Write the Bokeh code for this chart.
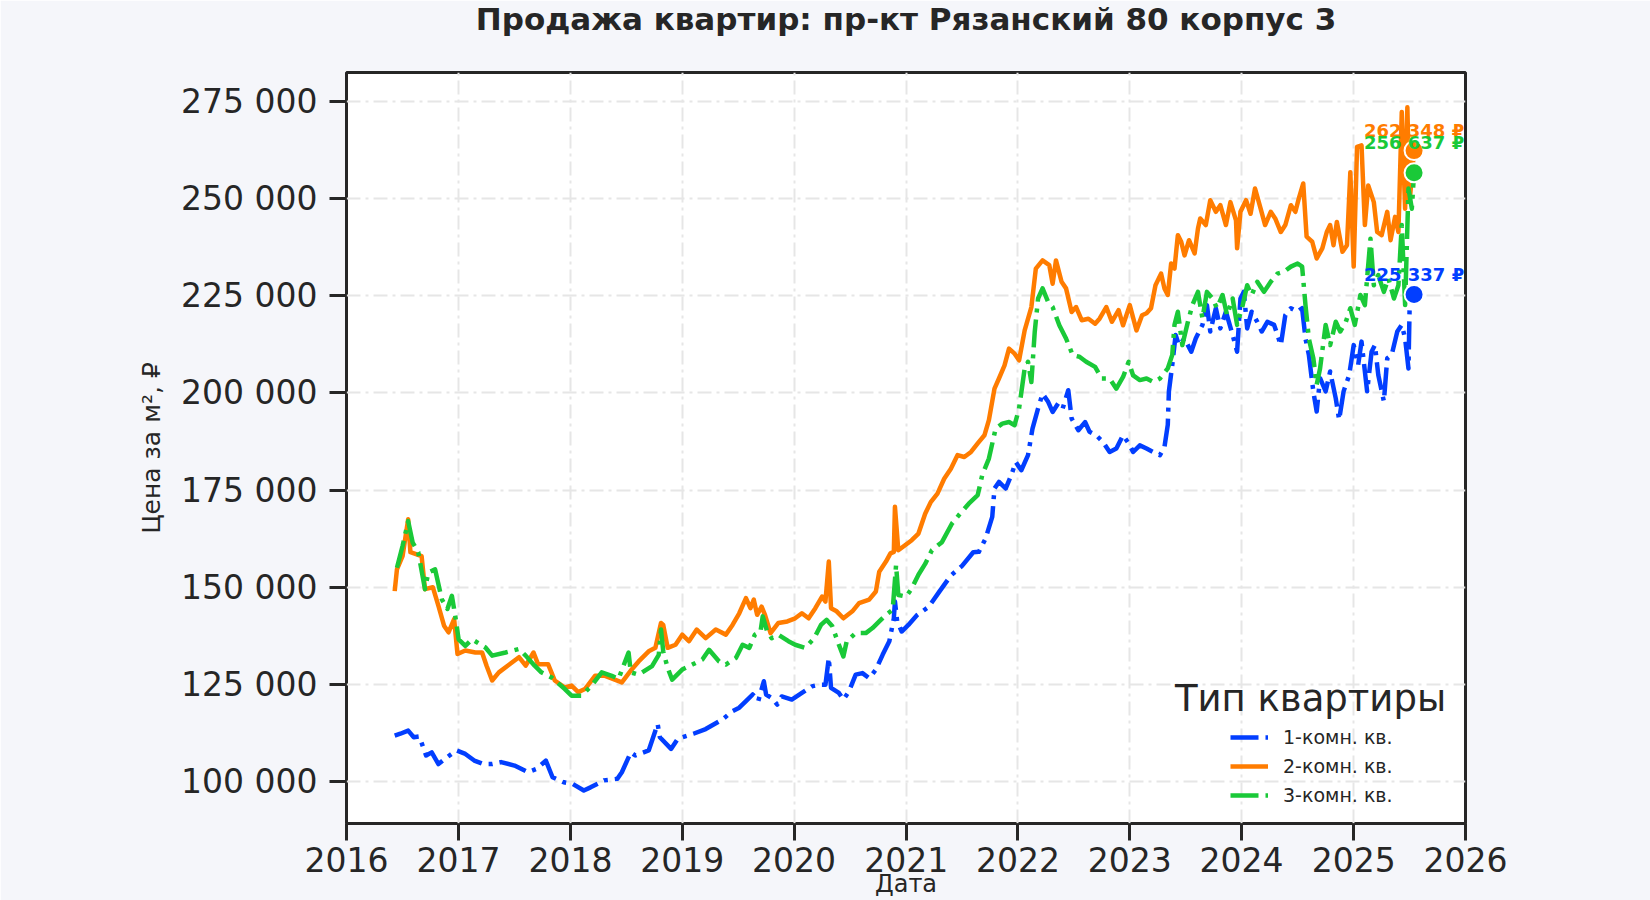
from datetime import datetime

from bokeh.core.properties import value
from bokeh.embed import file_html
from bokeh.models import FixedTicker, Label, Legend, LegendItem, Title
from bokeh.plotting import figure
from bokeh.resources import INLINE

title = 'Продажа квартир: пр-кт Рязанский 80 корпус 3'
series_names = ['1-комн. кв.', '2-комн. кв.', '3-комн. кв.']
series_colors = ['#023eff', '#ff7c00', '#1ac938']
legend_title = 'Тип квартиры'
y_ticks = [100000, 125000, 150000, 175000, 200000, 225000, 250000, 275000]
x_tick_years = [2016, 2017, 2018, 2019, 2020, 2021, 2022, 2023, 2024, 2025, 2026]

# dates are fractional years
one_room_t = [
    2016.43, 2016.48, 2016.55, 2016.60, 2016.65, 2016.71, 2016.76, 2016.82, 2016.90, 2016.98,
    2017.06, 2017.14, 2017.22, 2017.30, 2017.38, 2017.50, 2017.62, 2017.70, 2017.78, 2017.84,
    2017.94, 2018.02, 2018.12, 2018.18, 2018.30, 2018.42, 2018.46, 2018.54, 2018.58, 2018.70,
    2018.78, 2018.80, 2018.90, 2018.96, 2019.10, 2019.21, 2019.36, 2019.45, 2019.51, 2019.57,
    2019.63, 2019.68, 2019.73, 2019.75, 2019.80, 2019.85, 2019.89, 2019.98, 2020.07, 2020.16,
    2020.22, 2020.28, 2020.31, 2020.33, 2020.40, 2020.44, 2020.49, 2020.55, 2020.61, 2020.67,
    2020.73, 2020.79, 2020.85, 2020.89, 2020.90, 2020.92, 2020.96, 2021.02, 2021.10, 2021.20,
    2021.30, 2021.40, 2021.50, 2021.60, 2021.65, 2021.71, 2021.77, 2021.79, 2021.83, 2021.89,
    2021.94, 2021.98, 2022.03, 2022.09, 2022.13, 2022.18, 2022.22, 2022.27, 2022.31, 2022.36,
    2022.40, 2022.45, 2022.48, 2022.54, 2022.60, 2022.64, 2022.70, 2022.76, 2022.82, 2022.88,
    2022.94, 2022.99, 2023.03, 2023.09, 2023.15, 2023.21, 2023.27, 2023.31, 2023.34, 2023.35,
    2023.38, 2023.41, 2023.44, 2023.49, 2023.55, 2023.59, 2023.65, 2023.69, 2023.72, 2023.77,
    2023.81, 2023.86, 2023.92, 2023.96, 2023.99, 2024.02, 2024.05, 2024.09, 2024.14, 2024.18,
    2024.23, 2024.29, 2024.35, 2024.39, 2024.44, 2024.50, 2024.54, 2024.57, 2024.60, 2024.64,
    2024.67, 2024.70, 2024.75, 2024.79, 2024.84, 2024.87, 2024.91, 2024.96, 2025.00, 2025.04,
    2025.07, 2025.12, 2025.16, 2025.19, 2025.22, 2025.27, 2025.30, 2025.34, 2025.39, 2025.43,
    2025.46, 2025.49, 2025.50, 2025.54,
]
one_room_v = [
    111800, 112300, 113100, 111400, 111600, 106700, 107500, 104500, 106300, 108000,
    107100, 105400, 104500, 104500, 105000, 104100, 102400, 103300, 105400, 101100,
    99800, 99400, 97700, 98500, 100300, 100700, 102400, 107500, 106700, 108000,
    114800, 111400, 108400, 111000, 112300, 113500, 116000, 118100, 119000, 120700,
    122400, 120700, 125800, 122400, 121500, 119800, 121900, 121100, 122800, 124500,
    124900, 124900, 131800, 124100, 122800, 121100, 123200, 127500, 127900, 126600,
    128800, 132600, 136100, 142000, 146300, 141200, 138600, 140300, 142900, 144900,
    149000, 153000, 155500, 159000, 159100, 162500, 168100, 175400, 177100, 175400,
    178800, 182200, 180100, 184000, 190800, 196000, 199800, 197700, 195100, 197300,
    196000, 200700, 193400, 190400, 192500, 190000, 189100, 187400, 184800, 185700,
    189100, 187000, 184800, 186500, 185700, 184800, 184000, 186000, 191800, 200400,
    207200, 214900, 212300, 214000, 210600, 214000, 217500, 222600, 215800, 221800,
    216600, 220900, 214900, 210600, 224300, 226000, 216600, 220900, 218300, 215800,
    218300, 217500, 212300, 220000, 221800, 220900, 221800, 214000, 209800, 200400,
    195200, 203800, 200400, 205500, 198600, 193100, 200400, 204600, 212300, 207200,
    213200, 200400, 210600, 212300, 204600, 197800, 208900, 209800, 215800, 217500,
    214000, 206300, 221800, 225337,
]

two_room_t = [
    2016.43, 2016.45, 2016.50, 2016.55, 2016.57, 2016.62, 2016.67, 2016.70, 2016.77, 2016.82,
    2016.87, 2016.91, 2016.96, 2016.99, 2017.06, 2017.15, 2017.21, 2017.25, 2017.30, 2017.36,
    2017.48, 2017.54, 2017.60, 2017.67, 2017.71, 2017.80, 2017.86, 2017.95, 2018.01, 2018.07,
    2018.13, 2018.22, 2018.31, 2018.46, 2018.55, 2018.61, 2018.70, 2018.76, 2018.81, 2018.83,
    2018.87, 2018.94, 2019.00, 2019.06, 2019.13, 2019.21, 2019.30, 2019.39, 2019.45, 2019.51,
    2019.57, 2019.61, 2019.64, 2019.67, 2019.71, 2019.74, 2019.79, 2019.86, 2019.94, 2020.01,
    2020.07, 2020.13, 2020.19, 2020.25, 2020.28, 2020.31, 2020.33, 2020.38, 2020.44, 2020.52,
    2020.58, 2020.67, 2020.73, 2020.76, 2020.82, 2020.86, 2020.89, 2020.90, 2020.93, 2020.99,
    2021.05, 2021.11, 2021.17, 2021.22, 2021.28, 2021.34, 2021.40, 2021.46, 2021.52, 2021.58,
    2021.64, 2021.70, 2021.74, 2021.79, 2021.83, 2021.88, 2021.92, 2021.97, 2022.01, 2022.06,
    2022.12, 2022.16, 2022.22, 2022.28, 2022.31, 2022.34, 2022.39, 2022.43, 2022.48, 2022.52,
    2022.57, 2022.63, 2022.69, 2022.73, 2022.79, 2022.84, 2022.90, 2022.94, 2023.00, 2023.06,
    2023.11, 2023.15, 2023.19, 2023.23, 2023.28, 2023.31, 2023.34, 2023.37, 2023.40, 2023.43,
    2023.46, 2023.49, 2023.53, 2023.58, 2023.61, 2023.63, 2023.68, 2023.72, 2023.77, 2023.81,
    2023.86, 2023.90, 2023.95, 2023.96, 2023.99, 2024.04, 2024.08, 2024.12, 2024.17, 2024.21,
    2024.26, 2024.30, 2024.35, 2024.39, 2024.44, 2024.48, 2024.51, 2024.55, 2024.58, 2024.63,
    2024.67, 2024.72, 2024.76, 2024.79, 2024.82, 2024.85, 2024.90, 2024.94, 2024.97, 2025.00,
    2025.03, 2025.07, 2025.10, 2025.13, 2025.18, 2025.21, 2025.25, 2025.30, 2025.33, 2025.37,
    2025.40, 2025.43, 2025.46, 2025.48, 2025.50, 2025.54,
]
two_room_v = [
    149000, 154600, 158000, 167500, 159000, 158500, 158000, 149500, 150000, 145200,
    140100, 138400, 141800, 132800, 133700, 133200, 133200, 129800, 126000, 128100,
    130700, 132000, 129800, 133200, 130200, 130200, 126000, 124200, 124700, 123000,
    123800, 127200, 127200, 125500, 128900, 130900, 133500, 134400, 140800, 140300,
    134400, 135200, 137800, 136100, 139100, 136900, 139100, 137800, 140300, 143300,
    147200, 144600, 146800, 142900, 145000, 142900, 138200, 140800, 141200, 142000,
    143300, 142000, 144600, 147600, 146300, 156600, 144600, 143800, 142000, 143800,
    145900, 146800, 148900, 154000, 156600, 158700, 159100, 170700, 159500, 160800,
    162100, 163800, 168900, 171900, 174100, 177900, 180500, 184000, 183500, 184800,
    187000, 189100, 193000, 201100, 203700, 207100, 211400, 210100, 208400, 216100,
    222100, 232000, 234100, 232900, 228100, 234100, 228600, 226900, 220800, 222100,
    218700, 219100, 217800, 219100, 222100, 218300, 221300, 217400, 222600, 216100,
    220000, 220500, 221800, 227700, 230700, 226900, 225200, 233300, 232000, 240600,
    238900, 235400, 239300, 235900, 242300, 244900, 243200, 249600, 246600, 248300,
    243200, 249100, 244400, 237200, 246600, 249600, 246100, 252600, 247400, 243200,
    246600, 244900, 241400, 243200, 248300, 246600, 250000, 253900, 240200, 238900,
    234600, 237200, 241400, 243200, 238000, 244000, 236300, 238000, 256800, 232500,
    263300, 263700, 243200, 253400, 249100, 241400, 240600, 246600, 239300, 245300,
    241400, 272300, 247400, 273500, 249100, 262348,
]

three_room_t = [
    2016.45, 2016.50, 2016.55, 2016.59, 2016.64, 2016.70, 2016.73, 2016.79, 2016.85, 2016.90,
    2016.94, 2016.97, 2017.00, 2017.06, 2017.12, 2017.24, 2017.30, 2017.42, 2017.54, 2017.60,
    2017.68, 2017.74, 2017.83, 2017.95, 2018.01, 2018.10, 2018.19, 2018.28, 2018.37, 2018.43,
    2018.52, 2018.54, 2018.61, 2018.73, 2018.79, 2018.81, 2018.83, 2018.87, 2018.91, 2019.00,
    2019.09, 2019.18, 2019.24, 2019.33, 2019.39, 2019.48, 2019.54, 2019.60, 2019.65, 2019.70,
    2019.72, 2019.76, 2019.80, 2019.86, 2019.95, 2020.01, 2020.10, 2020.18, 2020.24, 2020.29,
    2020.34, 2020.40, 2020.44, 2020.47, 2020.55, 2020.64, 2020.70, 2020.76, 2020.82, 2020.88,
    2020.91, 2020.93, 2021.00, 2021.05, 2021.11, 2021.17, 2021.23, 2021.32, 2021.41, 2021.47,
    2021.56, 2021.64, 2021.68, 2021.74, 2021.80, 2021.86, 2021.92, 2021.97, 2022.01, 2022.06,
    2022.09, 2022.12, 2022.15, 2022.18, 2022.22, 2022.27, 2022.31, 2022.37, 2022.43, 2022.49,
    2022.55, 2022.61, 2022.69, 2022.75, 2022.82, 2022.88, 2022.94, 2022.99, 2023.03, 2023.09,
    2023.15, 2023.21, 2023.27, 2023.34, 2023.38, 2023.40, 2023.43, 2023.47, 2023.52, 2023.56,
    2023.61, 2023.65, 2023.69, 2023.74, 2023.78, 2023.83, 2023.87, 2023.92, 2023.96, 2024.01,
    2024.05, 2024.09, 2024.14, 2024.20, 2024.26, 2024.32, 2024.38, 2024.44, 2024.50, 2024.54,
    2024.57, 2024.60, 2024.64, 2024.67, 2024.70, 2024.75, 2024.79, 2024.84, 2024.88, 2024.93,
    2024.97, 2025.01, 2025.06, 2025.10, 2025.15, 2025.18, 2025.22, 2025.27, 2025.31, 2025.36,
    2025.40, 2025.43, 2025.46, 2025.49, 2025.52, 2025.54,
]
three_room_v = [
    155000, 160600, 167000, 161500, 159000, 149500, 153800, 154600, 146900, 144400,
    147800, 142600, 136600, 134900, 136600, 134500, 132400, 133200, 134100, 132400,
    129800, 128100, 126800, 123800, 122100, 122100, 124700, 128100, 127200, 126400,
    133200, 128100, 127500, 129700, 132600, 139100, 133500, 129200, 126200, 128800,
    130100, 131400, 133900, 130900, 130100, 131800, 135200, 134400, 137800, 138600,
    142500, 138600, 136900, 137800, 136100, 135200, 134400, 136900, 140300, 141600,
    140000, 135200, 132200, 136100, 138200, 138200, 139500, 141200, 142900, 144200,
    155700, 148000, 147600, 149700, 153200, 156000, 159500, 161600, 166400, 168500,
    171500, 173700, 178800, 183100, 190800, 192100, 192500, 191700, 196000, 206300,
    208000, 202800, 215700, 224300, 226900, 223400, 222100, 217400, 214000, 209700,
    209300, 208000, 206700, 203700, 203700, 201100, 204100, 208000, 204500, 203300,
    203700, 202800, 203700, 206300, 209800, 217500, 220900, 212300, 218300, 222600,
    226000, 219200, 226000, 224300, 221800, 225200, 220000, 224300, 217500, 222600,
    227700, 225200, 228600, 226000, 228600, 230700, 231200, 232500, 233300, 232500,
    222600, 214000, 208900, 202100, 206300, 217500, 212300, 218300, 215800, 218300,
    221800, 217500, 225200, 222600, 239700, 227700, 230300, 226000, 229500, 224300,
    227700, 243200, 222600, 252600, 247400, 256637,
]


def to_date(year):
    start = datetime(int(year), 1, 1)
    end = datetime(int(year) + 1, 1, 1)
    return start + (end - start) * (year - int(year))


def to_ms(d):
    return int((d - datetime(1970, 1, 1)).total_seconds() * 1000)


def money(v):
    return f'{v:,}'.replace(',', ' ')


series = [
    ([to_date(t) for t in one_room_t], one_room_v),
    ([to_date(t) for t in two_room_t], two_room_v),
    ([to_date(t) for t in three_room_t], three_room_v),
]

p = figure(
    width=1650,
    height=900,
    x_axis_type='datetime',
    x_range=(datetime(2016, 1, 1), datetime(2026, 1, 1)),
    y_range=(89200, 282450),
    toolbar_location=None,
    output_backend='svg',
    min_border_left=346,
    min_border_right=185,
    min_border_top=71,
    min_border_bottom=0,
)

# empty spacer next to the frame so the real title sits near the top edge
p.add_layout(Title(text=' ', text_font_size='1px', standoff=31), 'above')
p.add_layout(Title(
    text=title, align='center', vertical_align='top', standoff=0,
    text_font='DejaVu Sans', text_font_size='31px', text_color='#262626',
), 'above')

p.border_fill_color = '#f5f6fa'
p.background_fill_color = 'white'
p.outline_line_color = '#262626'
p.outline_line_width = 3

p.grid.grid_line_color = '#e6e6e6'
p.grid.grid_line_width = 2
p.grid.grid_line_dash = '14 5 3 5'

p.axis.axis_line_color = None
p.axis.major_tick_line_color = '#262626'
p.axis.major_tick_line_width = 3
p.axis.major_tick_out = 17
p.axis.major_tick_in = 0
p.axis.minor_tick_line_color = None
p.axis.major_label_text_font = 'DejaVu Sans'
p.axis.major_label_text_font_size = '33px'
p.axis.major_label_text_color = '#262626'
p.axis.axis_label_text_font = 'DejaVu Sans'
p.axis.axis_label_text_font_style = 'normal'
p.axis.axis_label_text_color = '#262626'

p.xaxis.ticker = FixedTicker(ticks=[to_ms(datetime(y, 1, 1)) for y in x_tick_years])
p.xaxis.major_label_overrides = {to_ms(datetime(y, 1, 1)): str(y) for y in x_tick_years}
p.xaxis.major_label_standoff = 6
p.xaxis.axis_label = 'Дата'
p.xaxis.axis_label_text_font_size = '24px'
p.xaxis.axis_label_standoff = -5

p.yaxis.ticker = FixedTicker(ticks=y_ticks)
p.yaxis.major_label_overrides = {v: money(v) for v in y_ticks}
p.yaxis.major_label_standoff = 12
p.yaxis.axis_label = 'Цена за м², ₽'
p.yaxis.axis_label_text_font_size = '25px'
p.yaxis.axis_label_standoff = 12

dashes = ['28 7 4 7', 'solid', '28 7 4 7']
label_offsets = [-20, -20, -30]
items = []
for (xs, ys), name, color, dash in zip(series, series_names, series_colors, dashes):
    r = p.line(xs, ys, line_color=color, line_width=4.5, line_dash=dash, line_join='round')
    items.append(LegendItem(label=name, renderers=[r]))

for (xs, ys), color, off in zip(series, series_colors, label_offsets):
    p.scatter([xs[-1]], [ys[-1]], size=19, fill_color=color, line_color='white', line_width=2)
    p.text(
        [xs[-1]], [ys[-1]], text=[money(ys[-1]) + ' ₽'],
        text_color=color, text_font=value('DejaVu Sans'), text_font_style='bold',
        text_font_size='18px', text_align='center', text_baseline='middle', y_offset=off,
    )

legend = Legend(items=items, location=(884, 17))
legend.padding = 0
legend.margin = 0
legend.spacing = 7
legend.glyph_width = 38
legend.glyph_height = 20
legend.label_height = 20
legend.label_standoff = 15
legend.label_text_font = 'DejaVu Sans'
legend.label_text_font_size = '19px'
legend.label_text_color = '#262626'
legend.background_fill_alpha = 0
legend.border_line_color = None
p.add_layout(legend)

p.add_layout(Label(
    x=964, y=125, x_units='screen', y_units='screen', text=legend_title,
    text_font='DejaVu Sans', text_font_size='37px', text_color='#262626',
    text_align='center', text_baseline='middle',
))

open('out.html', 'w').write(file_html(p, INLINE))
